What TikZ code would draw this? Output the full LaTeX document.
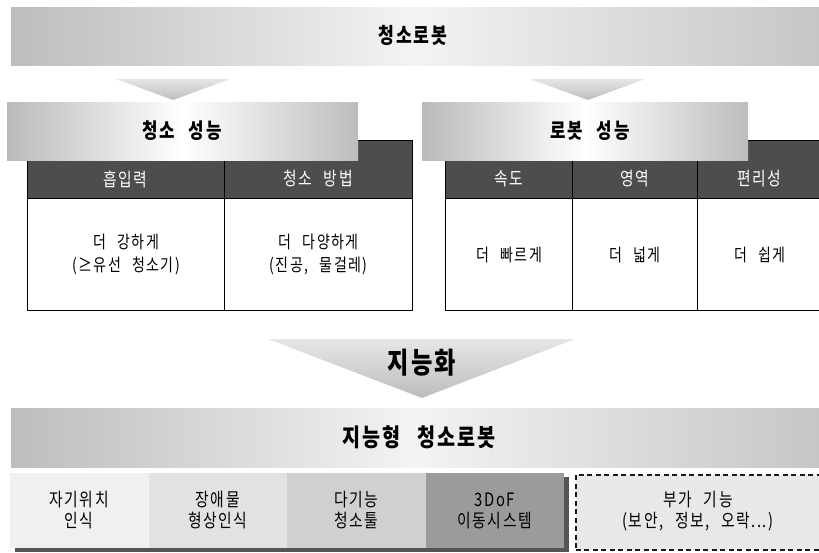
\documentclass[tikz,border=0pt]{standalone}
\usepackage{fontspec}
\setmainfont{Noto Sans CJK KR}[FakeStretch=0.8, LetterSpace=8, WordSpace=2.5]
\definecolor{hdr}{HTML}{4D4D4D}
\definecolor{bandL}{HTML}{BCBDBF}
\definecolor{bandM}{HTML}{F3F3F3}
\definecolor{bandR}{HTML}{C5C6C8}
\definecolor{cA}{HTML}{F0F0F0}
\definecolor{cB}{HTML}{E2E2E2}
\definecolor{cC}{HTML}{D0D0D0}
\definecolor{cD}{HTML}{9B9B9B}
\definecolor{cE}{HTML}{E8E8E8}
\definecolor{shd}{HTML}{555555}
\definecolor{trT}{HTML}{E6E6E6}
\definecolor{trB}{HTML}{BDBDBD}
\begin{document}
\begin{tikzpicture}[x=1pt,y=-1pt,
  band/.style={inner sep=0pt, outer sep=0pt, anchor=north west, left color=bandL, right color=bandR, middle color=bandM},
  sub/.style={inner sep=0pt, outer sep=0pt, anchor=north west, left color=black!27, right color=black!26, middle color=white},
  hcell/.style={draw=black, line width=1.2pt, fill=hdr, inner sep=0pt, anchor=north west, minimum height=58pt},
  bcell/.style={draw=black, line width=1.2pt, fill=white, inner sep=0pt, anchor=north west, minimum height=112pt},
  htext/.style={text=white, font=\fontsize{18.5}{20}\selectfont},
  btext/.style={align=center, font=\fontsize{17.5}{22.5}\selectfont},
  rowbox/.style={inner sep=0pt, outer sep=0pt, anchor=north west, minimum width=138.5pt, minimum height=75pt, align=center, font=\fontsize{18.5}{21}\selectfont},
  tri/.style={top color=trT, bottom color=trB, draw=none}
]
\useasboundingbox (0,0) rectangle (819,552);
\clip (0,0) rectangle (819,552);
\fill[white] (0,0) rectangle (819,552);

% top banner
\node[band, minimum width=808pt, minimum height=58pt] (top) at (11,7) {};
\node[font=\fontsize{21.5}{24}\selectfont\bfseries] (toptxt) at (413,35) {청소로봇};

% small arrows
\shade[tri] (116,79) -- (230,79) -- (173,100) -- cycle;
\shade[tri] (530,79) -- (645,79) -- (588,100) -- cycle;

% left table
\node[hcell, minimum width=197pt] (lh1) at (27,140) {};
\node[hcell, minimum width=188pt] (lh2) at (224,140) {};
\node[bcell, minimum width=197pt] (lb1) at (27,198) {};
\node[bcell, minimum width=188pt] (lb2) at (224,198) {};
\node[htext] (lt1) at (125.5,179) {흡입력};
\node[htext] (lt2) at (318,179) {청소 방법};
\node[btext] (lc1) at (lb1.center) {더 강하게\\(≥유선 청소기)};
\node[btext] (lc2) at (lb2.center) {더 다양하게\\(진공, 물걸레)};

% right table
\node[hcell, minimum width=127pt] (rh1) at (445,140) {};
\node[hcell, minimum width=125pt] (rh2) at (572,140) {};
\node[hcell, minimum width=125pt] (rh3) at (697,140) {};
\node[bcell, minimum width=127pt] (rb1) at (445,198) {};
\node[bcell, minimum width=125pt] (rb2) at (572,198) {};
\node[bcell, minimum width=125pt] (rb3) at (697,198) {};
\node[htext] (rt1) at (508.5,179) {속도};
\node[htext] (rt2) at (634.5,179) {영역};
\node[htext] (rt3) at (759.5,179) {편리성};
\node[btext] (rc1) at (rb1.center) {더 빠르게};
\node[btext] (rc2) at (rb2.center) {더 넓게};
\node[btext] (rc3) at (rb3.center) {더 쉽게};

% sub headers
\node[sub, minimum width=351pt, minimum height=58pt] (hL) at (7,102) {};
\node[font=\fontsize{21}{24}\selectfont\bfseries] (hLt) at (182,131) {청소 성능};
\node[sub, minimum width=326pt, minimum height=58pt] (hR) at (422,102) {};
\node[font=\fontsize{21}{24}\selectfont\bfseries] (hRt) at (590,131) {로봇 성능};

% big arrow
\shade[tri] (268,339) -- (575,339) -- (422,398) -- cycle;
\node[font=\fontsize{29}{32}\selectfont\bfseries] (ai) at (422,363) {지능화};

% bottom banner
\node[band, minimum width=808pt, minimum height=59pt] (bot) at (11,408) {};
\node[font=\fontsize{24.5}{27}\selectfont\bfseries] (bottxt) at (419,437) {지능형 청소로봇};

% bottom row
\fill[shd] (15,477) rectangle (569,552);
\node[rowbox, fill=cA] (m1) at (10,473) {자기위치\\인식};
\node[rowbox, fill=cB] (m2) at (m1.north east) {장애물\\형상인식};
\node[rowbox, fill=cC] (m3) at (m2.north east) {다기능\\청소툴};
\node[rowbox, fill=cD] (m4) at (m3.north east) {3DoF\\이동시스템};
\node[draw=black!90, dash pattern=on 5pt off 3.5pt, line width=1.5pt, fill=cE, inner sep=0pt, anchor=north west, minimum width=247pt, minimum height=75pt] (extra) at (575,474) {};
\node[align=center, font=\fontsize{18.5}{21}\selectfont] (extratxt) at (698,511) {부가 기능\\(보안, 정보, 오락...)};
\end{tikzpicture}
\end{document}
